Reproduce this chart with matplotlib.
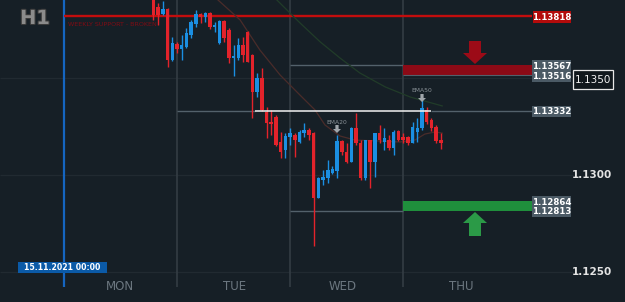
import matplotlib

matplotlib.use("Agg")
import matplotlib.pyplot as plt
from matplotlib.patches import Rectangle, Polygon
import matplotlib.patheffects as pe

# ---- data (EURUSD H1, hours counted from Mon 15.11.2021 00:00) ----
hours = list(range(19, 81))
opens = [1.13943, 1.13866, 1.13830, 1.13856, 1.13593, 1.13675, 1.13649, 1.13660, 1.13722, 1.13778,
         1.13830, 1.13814, 1.13835, 1.13763, 1.13680, 1.13794, 1.13747, 1.13603, 1.13603, 1.13670,
         1.13737, 1.13619, 1.13428, 1.13500, 1.13325, 1.13273, 1.13299, 1.13170, 1.13129, 1.13196,
         1.13206, 1.13170, 1.13216, 1.13232, 1.13216, 1.12881, 1.12974, 1.12985, 1.13010, 1.13021,
         1.13175, 1.13119, 1.13067, 1.13242, 1.13165, 1.12985, 1.13180, 1.13067, 1.13216, 1.13170,
         1.13180, 1.13139, 1.13227, 1.13196, 1.13196, 1.13165, 1.13222, 1.13242, 1.13335, 1.13284,
         1.13247, 1.13180]
highs = [1.13964, 1.13887, 1.13897, 1.13861, 1.13711, 1.13686, 1.13722, 1.13758, 1.13799, 1.13851,
         1.13835, 1.13840, 1.13840, 1.13789, 1.13799, 1.13799, 1.13758, 1.13670, 1.13706, 1.13711,
         1.13742, 1.13624, 1.13526, 1.13552, 1.13351, 1.13335, 1.13309, 1.13222, 1.13216, 1.13242,
         1.13216, 1.13232, 1.13268, 1.13242, 1.13222, 1.12990, 1.13026, 1.13077, 1.13046, 1.13206,
         1.13180, 1.13165, 1.13247, 1.13320, 1.13180, 1.13180, 1.13180, 1.13216, 1.13258, 1.13242,
         1.13206, 1.13232, 1.13232, 1.13216, 1.13201, 1.13273, 1.13294, 1.13387, 1.13351, 1.13294,
         1.13258, 1.13216]
lows = [1.13799, 1.13773, 1.13825, 1.13557, 1.13588, 1.13629, 1.13593, 1.13655, 1.13706, 1.13763,
        1.13784, 1.13789, 1.13753, 1.13737, 1.13675, 1.13686, 1.13577, 1.13510, 1.13593, 1.13582,
        1.13582, 1.13294, 1.13402, 1.13330, 1.13191, 1.13206, 1.13149, 1.13088, 1.13088, 1.13155,
        1.13093, 1.13165, 1.13196, 1.13180, 1.12634, 1.12881, 1.12948, 1.12959, 1.13005, 1.12985,
        1.13103, 1.13062, 1.13067, 1.13155, 1.12974, 1.12974, 1.12933, 1.12990, 1.13165, 1.13129,
        1.13129, 1.13103, 1.13175, 1.13165, 1.13155, 1.13165, 1.13170, 1.13232, 1.13263, 1.13227,
        1.13165, 1.13134]
closes = [1.13825, 1.13825, 1.13856, 1.13593, 1.13680, 1.13649, 1.13670, 1.13732, 1.13789, 1.13830,
          1.13814, 1.13835, 1.13763, 1.13773, 1.13794, 1.13706, 1.13603, 1.13613, 1.13670, 1.13619,
          1.13582, 1.13428, 1.13500, 1.13335, 1.13268, 1.13263, 1.13155, 1.13119, 1.13201, 1.13216,
          1.13180, 1.13222, 1.13232, 1.13206, 1.12881, 1.12985, 1.12990, 1.13026, 1.13031, 1.13175,
          1.13119, 1.13067, 1.13242, 1.13165, 1.12985, 1.13180, 1.13067, 1.13216, 1.13180, 1.13191,
          1.13139, 1.13222, 1.13180, 1.13180, 1.13165, 1.13247, 1.13242, 1.13345, 1.13273, 1.13242,
          1.13175, 1.13165]

ema20_h = [32.7, 37.4, 41.6, 45.9, 50.1, 53.3, 55.4, 58.6, 61.8, 67.1, 71.3, 74.5, 76.6, 78.8, 80.3]
ema20_p = [1.13902, 1.13799, 1.13644, 1.13515, 1.13412, 1.13335, 1.13258, 1.13201, 1.13180,
           1.13175, 1.13170, 1.13180, 1.13211, 1.13222, 1.13216]
ema50_h = [45.2, 50.1, 54.4, 58.6, 62.8, 68.2, 73.5, 76.6, 80.3]
ema50_p = [1.13902, 1.13784, 1.13686, 1.13603, 1.13526, 1.13454, 1.13402, 1.13381, 1.13356]

weekly_support = 1.13818
sell_zone = [1.13567, 1.13516]
mid_level = 1.13332
buy_zone = [1.12864, 1.12813]
price_ticks = [1.1350, 1.1300, 1.1250]
price_labels = ["1.1350", "1.1300", "1.1250"]
day_names = ["MON", "TUE", "WED", "THU"]
day_starts = [0, 24, 48, 72]

# ---- look ----
BG = "#161f26"
GRID = "#212a31"
SEP = "#343d44"
RED = "#e3232b"
BLUE = "#1b8fe2"
SLATE = "#4b5a65"
W, H = 625, 302
X0, PXH = 64, 4.71          # px of Mon 00:00, px per hour
Y0, PXP = 175, 19400        # px of 1.1300, px per 1.0 price


def hx(px):
  return (px - X0) / PXH


fig = plt.figure(figsize=(W / 100, H / 100), dpi=100)
fig.patch.set_facecolor(BG)
ax = fig.add_axes([0, 0, 1, 1])
ax.set_facecolor(BG)
ax.set_xlim(hx(0), hx(W))
ax.set_ylim(1.13 - (H - Y0) / PXP, 1.13 + Y0 / PXP)
ax.axis("off")

ov = fig.add_axes([0, 0, 1, 1])
ov.set_xlim(0, W)
ov.set_ylim(H, 0)
ov.axis("off")
ov.patch.set_alpha(0)

# grid + separators
ax.hlines(price_ticks, hx(0), hx(573), color=GRID, lw=0.9, zorder=0)
sep_bottom = 1.13 - (287 - Y0) / PXP
ax.vlines(day_starts[1:], sep_bottom, 1.14, color=SEP, lw=1.2, zorder=0)
ax.vlines(day_starts[0], sep_bottom, 1.14, color="#1565c0", lw=1.6, zorder=1)

# levels and zones
right = hx(532)
ax.hlines(weekly_support, 0, right, color="#c30d0d", lw=1.7, zorder=2)
ax.hlines(sell_zone[0], 48, 72, color="#53616b", lw=1.0, zorder=1)
ax.add_patch(Rectangle((72, sell_zone[1]), right - 72, sell_zone[0] - sell_zone[1],
                       facecolor="#8c0a16", edgecolor="none", zorder=1))
ax.hlines(sell_zone[1], 72, right, color="#53616b", lw=0.8, zorder=1)
ax.hlines(mid_level, 24, hx(255), color="#53616b", lw=1.0, zorder=1)
ax.hlines(mid_level, hx(255), hx(431), color="#f2f2f2", lw=1.1, zorder=4)
ax.hlines(mid_level, hx(431), right, color="#53616b", lw=1.0, zorder=1)
ax.hlines(buy_zone[1], 48, 72, color="#53616b", lw=1.0, zorder=1)
ax.add_patch(Rectangle((72, buy_zone[1]), right - 72, buy_zone[0] - buy_zone[1],
                       facecolor="#1f8f3c", edgecolor="none", zorder=1))

# moving averages
ax.plot(ema20_h, ema20_p, color="#4a2c2a", lw=0.9, zorder=2)
ax.plot(ema50_h, ema50_p, color="#213c29", lw=0.9, zorder=2)

# candles
cols = [BLUE if c >= o else RED for o, c in zip(opens, closes)]
ax.vlines(hours, lows, highs, colors=cols, lw=1.0, zorder=3)
bottoms = [min(o, c) for o, c in zip(opens, closes)]
heights = [max(abs(c - o), 0.00004) for o, c in zip(opens, closes)]
ax.bar(hours, heights, bottom=bottoms, width=0.74, color=cols, lw=0, zorder=3)

# price ticks on the right
for p, lab in zip(price_ticks[1:], price_labels[1:]):
  ax.text(592 / W, p, lab, transform=ax.get_yaxis_transform(), ha="center", va="center",
          fontsize=7.5, color="#e4e4e4", fontweight="semibold")

# day labels
day_px = [120, 235, 343, 461]
for x, name in zip(day_px, day_names):
  ov.text(x, 287, name, ha="center", va="center", fontsize=8.5, color="#6c7780")


def box(x0, y0, x1, y1, text, fc, ec="none", fs=6.2, lw=0):
  ov.add_patch(Rectangle((x0, y0), x1 - x0, y1 - y0, facecolor=fc, edgecolor=ec, lw=lw, zorder=5))
  ov.text((x0 + x1) / 2, (y0 + y1) / 2 + 0.5, text, ha="center", va="center", fontsize=fs,
          color="white", fontweight="bold", linespacing=1.05, zorder=6)


box(533, 11, 571, 23, "1.13818", "#b30b0b")
box(532, 60, 571, 82, "1.13567\n1.13516", SLATE)
box(532, 106, 571, 117, "1.13332", SLATE)
box(532, 196, 571, 217, "1.12864\n1.12813", SLATE)
ov.add_patch(Rectangle((573, 70), 40, 19, facecolor="#11181d", edgecolor="#e8e8e8", lw=0.9, zorder=5))
ov.text(593, 80, "1.1350", ha="center", va="center", fontsize=7.5, color="#f0f0f0", zorder=6)

# arrows
ov.add_patch(Polygon([(469, 41), (481, 41), (481, 53), (487, 53), (475, 64), (463, 53), (469, 53)],
                     closed=True, facecolor="#9c0b17", edgecolor="none", zorder=5))
ov.add_patch(Polygon([(475, 212), (487, 223), (481, 223), (481, 236), (469, 236), (469, 223), (463, 223)],
                     closed=True, facecolor="#2b9a47", edgecolor="none", zorder=5))
for cx, ty, lab in [(337, 125, "EMA20"), (422, 94, "EMA50")]:
  ov.add_patch(Polygon([(cx - 1.6, ty), (cx + 1.6, ty), (cx + 1.6, ty + 4), (cx + 4, ty + 4),
                        (cx, ty + 8), (cx - 4, ty + 4), (cx - 1.6, ty + 4)],
                       closed=True, facecolor="#a0a6ab", edgecolor="none", zorder=5))
  ov.text(cx, ty - 3, lab, ha="center", va="center", fontsize=4.3, color="#8a9298", zorder=5)

# annotations
ov.text(68, 24, "WEEKLY SUPPORT - BROKEN", ha="left", va="center", fontsize=4.6, color="#7e0c14")
ov.text(35, 18.5, "H1", ha="center", va="center", fontsize=14, fontweight="bold", color="#8b8b8b",
        path_effects=[pe.withStroke(linewidth=1.5, foreground="#3a3a3a")])
ov.add_patch(Rectangle((18, 262), 89, 11, facecolor="#0b5aa7", edgecolor="none", zorder=5))
ov.text(62.5, 267.8, "15.11.2021 00:00", ha="center", va="center", fontsize=5.6, color="white",
        fontweight="bold", zorder=6)

fig.savefig("out.png", dpi=100, facecolor=BG)
